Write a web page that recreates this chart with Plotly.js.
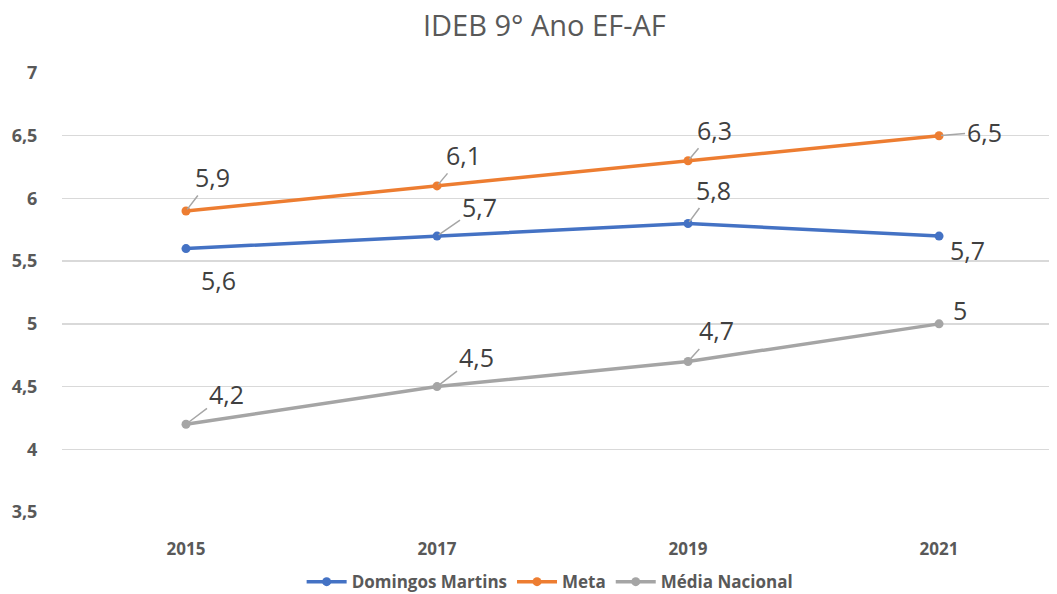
<!DOCTYPE html>
<html><head><meta charset="utf-8">
<script src="https://cdn.plot.ly/plotly-3.0.1.min.js"></script>
<style>html,body{margin:0;padding:0;background:#fff}#chart{width:1057px;height:594px}</style>
</head><body><div id="chart"></div>
<script>
const years = ['2015','2017','2019','2021'];
const domingos = [5.6, 5.7, 5.8, 5.7];
const meta = [5.9, 6.1, 6.3, 6.5];
const media = [4.2, 4.5, 4.7, 5.0];
const seriesNames = ['Domingos Martins','Meta','Média Nacional'];
const colors = ['#4472C4','#ED7D31','#A5A5A5'];
const yTicks = [3.5,4,4.5,5,5.5,6,6.5,7];
const yTickText = ['3,5','4','4,5','5','5,5','6','6,5','7'];

const idx = years.map((_, i) => i);
const allSeries = [domingos, meta, media];
const traces = allSeries.map((vals, s) => ({
  x: idx, y: vals, name: seriesNames[s], type: 'scatter', mode: 'lines+markers',
  line: {color: colors[s], width: 3.5}, marker: {color: colors[s], size: 9},
  hoverinfo: 'skip'
}));

// label offsets (px) and whether a leader line is shown
const offsets = [
  [[32, 31, false], [42, -29, true], [25, -34, true], [28, 14, false]],
  [[26, -34, true], [26, -31, true], [26, -31, true], [45, -4, true]],
  [[40, -30, true], [39, -30, true], [28, -31, true], [21, -14, false]]
];
const fmt = v => String(v).replace('.', ',');
const annotations = [];
allSeries.forEach((vals, s) => {
  vals.forEach((v, i) => {
    const [ax, ay, lead] = offsets[s][i];
    annotations.push({
      x: i, y: v, xref: 'x', yref: 'y', text: fmt(v), showarrow: true,
      arrowhead: 0, arrowwidth: 1.5, arrowcolor: lead ? '#A6A6A6' : 'rgba(0,0,0,0)',
      ax: ax, ay: ay, standoff: 2,
      font: {family: 'Open Sans, Noto Sans, sans-serif', size: 25, color: '#404040'}
    });
  });
});

const layout = {
  width: 1057, height: 594,
  margin: {l: 62, r: 8, t: 73, b: 82},
  paper_bgcolor: '#fff', plot_bgcolor: '#fff',
  title: {text: 'IDEB 9° Ano EF-AF', x: 0.515, xanchor: 'center', yref: 'container', y: 0.957, yanchor: 'middle',
    font: {family: 'Open Sans, Noto Sans, sans-serif', size: 29, color: '#595959'}},
  xaxis: {range: [-0.494, 3.438], tickvals: idx, ticktext: years, showgrid: false, zeroline: false,
    showline: false, ticks: 'outside', ticklen: 22, tickcolor: 'rgba(0,0,0,0)',
    tickfont: {family: 'Open Sans, Noto Sans, sans-serif', size: 17, color: '#595959', weight: 'bold'}},
  yaxis: {range: [3.5, 7], tickvals: yTicks, ticktext: yTickText, showgrid: true, gridcolor: '#D9D9D9',
    gridwidth: 1.3, zeroline: false, showline: false, ticks: 'outside', ticklen: 20, tickcolor: 'rgba(0,0,0,0)',
    tickfont: {family: 'Open Sans, Noto Sans, sans-serif', size: 18, color: '#595959', weight: 'bold'}},
  legend: {orientation: 'h', x: 0.52, xanchor: 'center', xref: 'container', yref: 'container', y: 0.02, yanchor: 'middle',
    font: {family: 'Open Sans, Noto Sans, sans-serif', size: 17, color: '#595959', weight: 'bold'},
    itemwidth: 40, tracegroupgap: 0},
  annotations: annotations,
  showlegend: true
};
Plotly.newPlot('chart', traces, layout, {displayModeBar: false, staticPlot: true});
</script></body></html>
